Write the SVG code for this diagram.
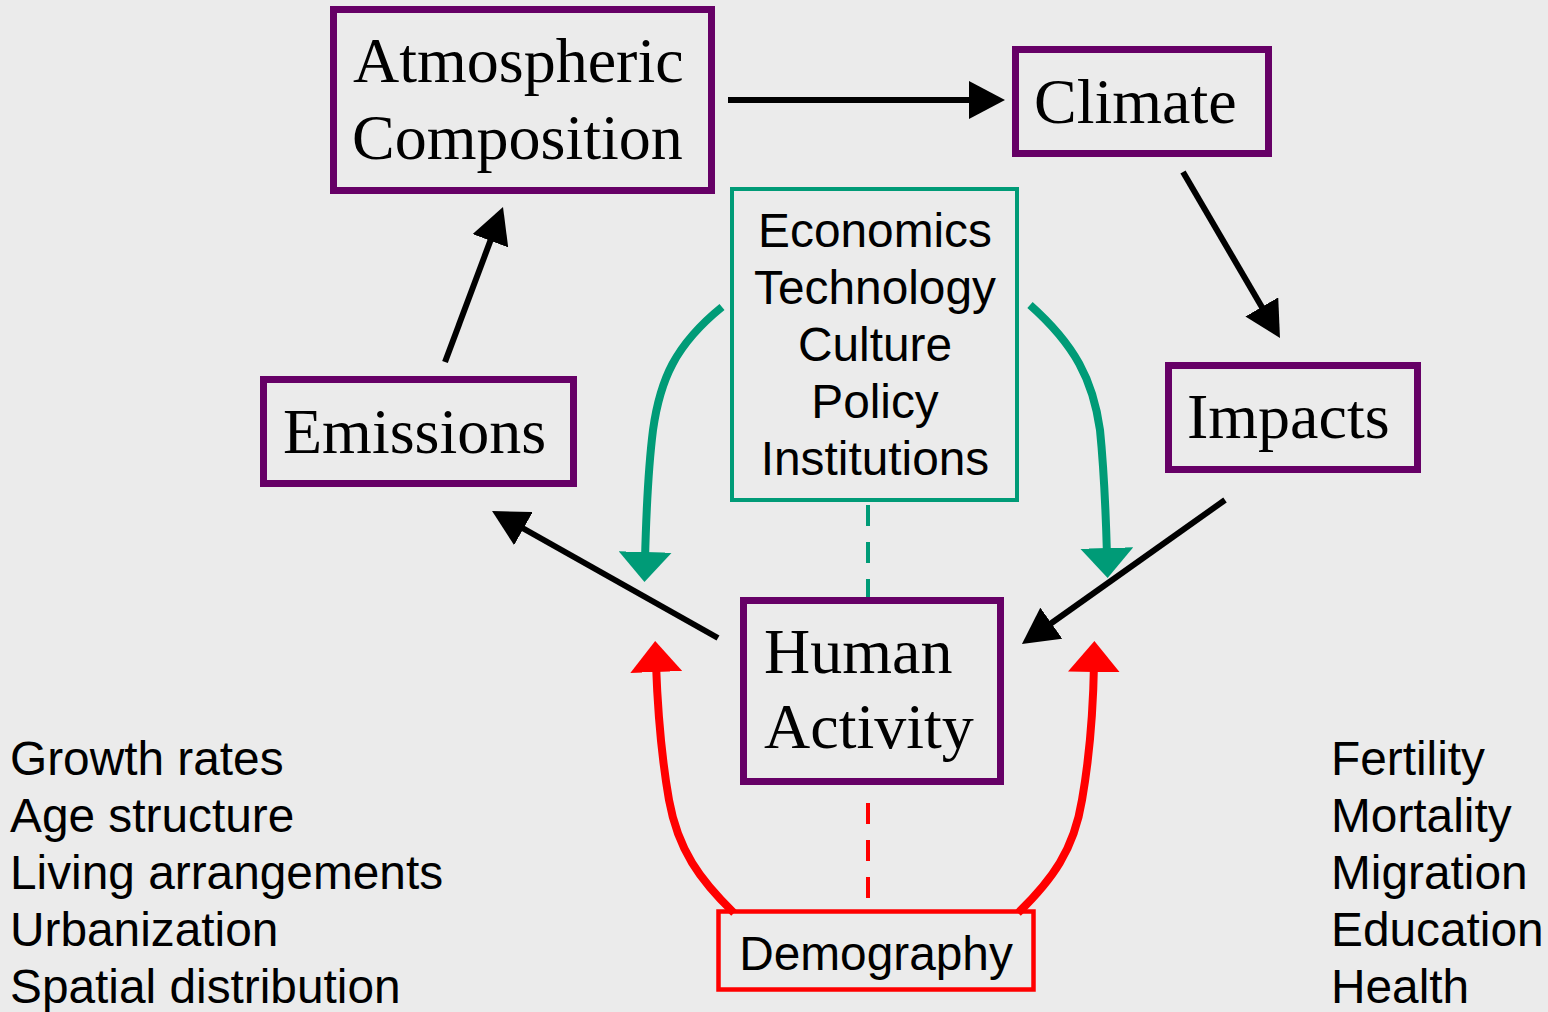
<svg xmlns="http://www.w3.org/2000/svg" width="1548" height="1012" viewBox="0 0 1548 1012">
<style>
.bg{fill:#EBEBEB}
.pbox{fill:none;stroke:#660066;stroke-width:7}
.gbox{fill:none;stroke:#009B77;stroke-width:4}
.rbox{fill:none;stroke:#FF0000;stroke-width:4.5}
.serif{font-family:"Liberation Serif","Times New Roman",serif;font-size:64px;fill:#000}
.sans{font-family:"Liberation Sans",Arial,sans-serif;font-size:47.8px;fill:#000}
.mid{text-anchor:middle}
.blk{fill:none;stroke:#000;stroke-width:6}
.grn{fill:none;stroke:#009B77;stroke-width:8}
.red{fill:none;stroke:#FF0000;stroke-width:8}
.gdash{fill:none;stroke:#009B77;stroke-width:4;stroke-dasharray:21 16}
.rdash{fill:none;stroke:#FF0000;stroke-width:4;stroke-dasharray:21 16}
</style>
<defs>
<marker id="ab" markerUnits="userSpaceOnUse" viewBox="0 0 36 38" markerWidth="36" markerHeight="38" refX="20" refY="19" orient="auto"><path d="M0,0 L36,19 L0,38 z" fill="#000"/></marker>
<marker id="ag" markerUnits="userSpaceOnUse" viewBox="0 0 30 53" markerWidth="30" markerHeight="53" refX="8" refY="26.5" orient="auto"><path d="M0,0 L30,26.5 L0,53 z" fill="#009B77"/></marker>
<marker id="ar" markerUnits="userSpaceOnUse" viewBox="0 0 31 52" markerWidth="31" markerHeight="52" refX="8" refY="26" orient="auto"><path d="M0,0 L31,26 L0,52 z" fill="#FF0000"/></marker>
</defs>
<rect class="bg" x="0" y="0" width="1548" height="1012"/>

<g id="connectors">
<path class="blk" d="M728,100 L989,100" marker-end="url(#ab)"/>
<path class="blk" d="M1183,172 L1271.9,324.2" marker-end="url(#ab)"/>
<path class="blk" d="M445,362 L497.4,222" marker-end="url(#ab)"/>
<path class="blk" d="M718,638 L506,518.8" marker-end="url(#ab)"/>
<path class="blk" d="M1225,500 L1035,634.7" marker-end="url(#ab)"/>
<path class="grn" d="M722,307 C675,345 660,380 653,430 C648,470 646,520 645,560" marker-end="url(#ag)"/>
<path class="grn" d="M1030,305 C1075,345 1093,380 1100,430 C1105,480 1106,520 1107,556" marker-end="url(#ag)"/>
<path class="red" d="M734,913 C700,880 678,850 669,800 C662,760 658,720 656,664" marker-end="url(#ar)"/>
<path class="red" d="M1018,913 C1052,880 1074,850 1082,800 C1089,760 1093,720 1094,664" marker-end="url(#ar)"/>
<path class="gdash" d="M868,505 L868,597"/>
<path class="rdash" d="M868,803 L868,905"/>
</g>

<g id="atmospheric">
<rect class="pbox" x="333.5" y="9.5" width="378" height="181"/>
<text class="serif" x="353" y="82">Atmospheric</text>
<text class="serif" x="352" y="159">Composition</text>
</g>
<g id="climate">
<rect class="pbox" x="1015.5" y="49.5" width="253" height="104"/>
<text class="serif" x="1034" y="123">Climate</text>
</g>
<g id="emissions">
<rect class="pbox" x="263.5" y="379.5" width="310" height="104"/>
<text class="serif" x="283" y="453">Emissions</text>
</g>
<g id="impacts">
<rect class="pbox" x="1168.5" y="365.5" width="249" height="104"/>
<text class="serif" x="1187" y="438">Impacts</text>
</g>
<g id="human">
<rect class="pbox" x="743.5" y="600.5" width="257" height="181"/>
<text class="serif" x="764" y="673">Human</text>
<text class="serif" x="764" y="748">Activity</text>
</g>
<g id="factors">
<rect class="gbox" x="732" y="189" width="285" height="311"/>
<text class="sans mid" x="875" y="247">Economics</text>
<text class="sans mid" x="875" y="304">Technology</text>
<text class="sans mid" x="875" y="361">Culture</text>
<text class="sans mid" x="875" y="418">Policy</text>
<text class="sans mid" x="875" y="475">Institutions</text>
</g>
<g id="demography">
<rect class="rbox" x="718.5" y="911.5" width="315" height="78"/>
<text class="sans mid" x="876" y="970">Demography</text>
</g>
<g id="left-list">
<text class="sans" x="10" y="775">Growth rates</text>
<text class="sans" x="10" y="832">Age structure</text>
<text class="sans" x="10" y="889">Living arrangements</text>
<text class="sans" x="10" y="946">Urbanization</text>
<text class="sans" x="10" y="1003">Spatial distribution</text>
</g>
<g id="right-list">
<text class="sans" x="1331" y="775">Fertility</text>
<text class="sans" x="1331" y="832">Mortality</text>
<text class="sans" x="1331" y="889">Migration</text>
<text class="sans" x="1331" y="946">Education</text>
<text class="sans" x="1331" y="1003">Health</text>
</g>
</svg>
